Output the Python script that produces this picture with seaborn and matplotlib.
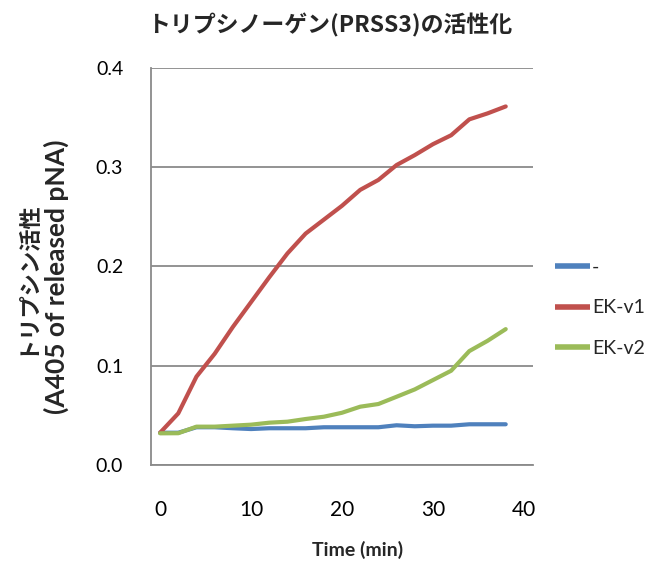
import matplotlib
matplotlib.use("Agg")
import matplotlib.pyplot as plt
import seaborn as sns
import pandas as pd
import numpy as np
from matplotlib.ticker import MultipleLocator, FixedLocator

time_min = [0, 2, 4, 6, 8, 10, 12, 14, 16, 18, 20, 22, 24, 26, 28, 30, 32, 34, 36, 38]
ctrl = [0.0325, 0.0325, 0.038, 0.038, 0.037, 0.0362, 0.037, 0.037, 0.037, 0.038,
        0.038, 0.038, 0.038, 0.040, 0.039, 0.0396, 0.0396, 0.041, 0.041, 0.041]
ek_v1 = [0.0325, 0.052, 0.089, 0.112, 0.139, 0.164, 0.189, 0.213, 0.233, 0.247,
         0.261, 0.277, 0.287, 0.302, 0.312, 0.323, 0.332, 0.348, 0.354, 0.361]
ek_v2 = [0.0319, 0.032, 0.0386, 0.0386, 0.0396, 0.0406, 0.0426, 0.0436, 0.0463, 0.0486,
         0.0526, 0.0587, 0.0614, 0.0687, 0.0761, 0.0855, 0.0949, 0.1147, 0.125, 0.1368]
series_names = ["-", "EK-v1", "EK-v2"]
colors = ["#4F81BD", "#C0504D", "#9BBB59"]

title = "トリプシノーゲン(PRSS3)の活性化"
ylabel_1 = "トリプシン活性"
ylabel_2 = "(A405 of released pNA)"
xlabel = "Time (min)"

sns.set_theme(style="white")
plt.rcParams["font.family"] = ["Lato", "Noto Sans CJK JP", "DejaVu Sans"]

df = pd.DataFrame({
    "time": time_min * 3,
    "value": ctrl + ek_v1 + ek_v2,
    "series": [series_names[0]] * len(time_min) + [series_names[1]] * len(time_min) + [series_names[2]] * len(time_min),
})

W, H = 647, 562
fig = plt.figure(figsize=(6.47, 5.62), dpi=100)
ax = fig.add_axes([151 / W, 1 - 465 / H, (533 - 151) / W, (465 - 67.7) / H])

sns.lineplot(data=df, x="time", y="value", hue="series", hue_order=series_names,
             palette=colors, linewidth=3.0, ax=ax, legend=True, solid_capstyle="round")

ax.set_xlim(-1, 41)
ax.set_ylim(0, 0.4)
ax.yaxis.set_major_locator(MultipleLocator(0.1))
ax.set_yticklabels([f"{v:.1f}" for v in ax.get_yticks()])
ax.xaxis.set_major_locator(FixedLocator([0, 10, 20, 30, 40]))
ax.xaxis.set_minor_locator(FixedLocator(np.arange(-1, 42, 2)))
ax.grid(axis="y", color="#8a8a8a", linewidth=1.3)
ax.set_axisbelow(True)
for s in ["top", "right"]:
    ax.spines[s].set_visible(False)
for s in ["left", "bottom"]:
    ax.spines[s].set_color("#8a8a8a")
    ax.spines[s].set_linewidth(1.3)
ax.tick_params(axis="x", which="major", length=0, pad=25, labelsize=15, colors="#000000")
ax.tick_params(axis="x", which="minor", length=6, width=1.3, color="#8a8a8a", direction="out")
ax.tick_params(axis="y", which="major", length=6, width=1.3, color="#8a8a8a", direction="out",
               pad=14, labelsize=14, labelcolor="#000000")
ax.set_xlabel("")
ax.set_ylabel("")

fig.text(358 / W, 1 - 550 / H, xlabel, ha="center", va="center", fontsize=14, fontweight="bold")
fig.text(26 / W, 1 - 277 / H, ylabel_1, ha="center", va="center", rotation=90, fontsize=16,
         fontweight="bold", family=["Noto Sans CJK JP", "DejaVu Sans"])
fig.text(56 / W, 1 - 277 / H, ylabel_2, ha="center", va="center", rotation=90, fontsize=19,
         fontweight="bold")

leg = ax.get_legend()
handles = leg.legend_handles
leg.remove()
for h in handles:
    h.set_linewidth(4)
    h.set_solid_capstyle("butt")
fig.legend(handles, series_names, loc="center left", bbox_to_anchor=(555 / W, 1 - 308 / H),
           frameon=False, fontsize=14, handlelength=1.8, handletextpad=0.1, labelspacing=1.2,
           borderaxespad=0, borderpad=0)

fig.suptitle(title, x=330 / W, y=1 - 25 / H, va="center", fontsize=16.5, fontweight="bold",
             family=["Noto Sans CJK JP", "DejaVu Sans"])

fig.savefig("out.png", dpi=100, facecolor="white")
